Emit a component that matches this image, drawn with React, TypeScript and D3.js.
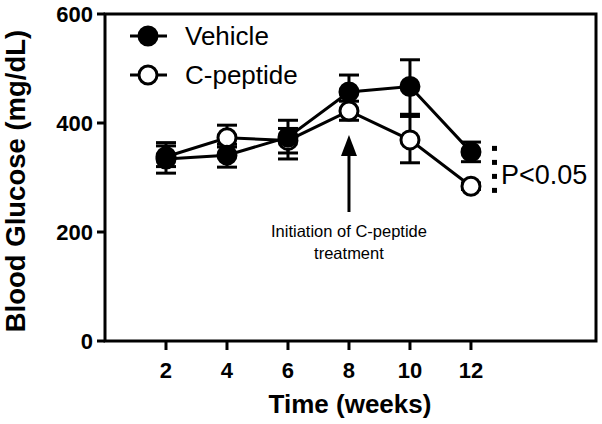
import React from "react";
import * as d3 from "d3";

const weeks = [2, 4, 6, 8, 10, 12];
const vehicleMean = [334, 341, 374, 457, 467, 347];
const vehicleLo = [308, 319, 345, 425, 416, 329];
const vehicleHi = [364, 361, 405, 488, 516, 365];
const cpepMean = [338, 373, 368, 422, 369, 284];
const cpepLo = [320, 356, 334, 405, 327, 278];
const cpepHi = [358, 396, 390, 440, 412, 290];
const xTicks = [2, 4, 6, 8, 10, 12];
const yTicks = [0, 200, 400, 600];

export default function App() {
  const W = 602, H = 424;
  const x = d3.scaleLinear().domain([0, 16.1]).range([105, 596]);
  const y = d3.scaleLinear().domain([0, 600]).range([341, 14]);
  const line = d3.line<number>().x((_, i) => x(weeks[i])).y((d) => y(d));
  const font = "Liberation Sans, Arial, sans-serif";
  const sw = 3;
  const r = 9;
  const cap = 10;

  const errBars = (lo: number[], hi: number[]) =>
    weeks.map((w, i) => (
      <g key={i} stroke="#000" strokeWidth={sw}>
        <line x1={x(w)} x2={x(w)} y1={y(lo[i])} y2={y(hi[i])} />
        <line x1={x(w) - cap} x2={x(w) + cap} y1={y(lo[i])} y2={y(lo[i])} />
        <line x1={x(w) - cap} x2={x(w) + cap} y1={y(hi[i])} y2={y(hi[i])} />
      </g>
    ));

  const pTop = y(vehicleMean[5]) - 6;
  const pBot = y(cpepMean[5]) + 4;
  const dots: number[] = [];
  for (let v = pTop; v <= pBot; v += 14) dots.push(v);

  return (
    <svg width={W} height={H} style={{ position: "absolute", left: 0, top: 0 }} fontFamily={font}>
      <rect width={W} height={H} fill="#fff" />
      {/* frame */}
      <rect x={105} y={14} width={491} height={327} fill="none" stroke="#000" strokeWidth={3} />
      {/* y ticks */}
      {yTicks.map((t) => (
        <g key={t}>
          <line x1={97} x2={105} y1={y(t)} y2={y(t)} stroke="#000" strokeWidth={3} />
          <text x={93} y={y(t)} dy="0.36em" textAnchor="end" fontWeight="bold" fontSize={22}>{t}</text>
        </g>
      ))}
      {xTicks.map((t) => (
        <g key={t}>
          <line x1={x(t)} x2={x(t)} y1={341} y2={350} stroke="#000" strokeWidth={3} />
          <text x={x(t)} y={378} textAnchor="middle" fontWeight="bold" fontSize={22}>{t}</text>
        </g>
      ))}
      <text x={350} y={413} textAnchor="middle" fontWeight="bold" fontSize={26}>Time (weeks)</text>
      <text transform={`translate(25,181) rotate(-90)`} textAnchor="middle" fontWeight="bold" fontSize={27.5}>Blood Glucose (mg/dL)</text>

      {/* lines */}
      <path d={line(cpepMean) || ""} fill="none" stroke="#000" strokeWidth={sw} />
      <path d={line(vehicleMean) || ""} fill="none" stroke="#000" strokeWidth={sw} />
      {errBars(cpepLo, cpepHi)}
      {errBars(vehicleLo, vehicleHi)}
      {weeks.map((w, i) => (
        <circle key={"c" + i} cx={x(w)} cy={y(cpepMean[i])} r={r} fill="#fff" stroke="#000" strokeWidth={sw} />
      ))}
      {weeks.map((w, i) => (
        <circle key={"v" + i} cx={x(w)} cy={y(vehicleMean[i])} r={r} fill="#000" stroke="#000" strokeWidth={sw} />
      ))}

      {/* legend */}
      <line x1={130} x2={167} y1={36} y2={36} stroke="#000" strokeWidth={sw} />
      <circle cx={148} cy={36} r={r} fill="#000" stroke="#000" strokeWidth={sw} />
      <text x={185} y={45} fontSize={26}>Vehicle</text>
      <line x1={130} x2={167} y1={75} y2={75} stroke="#000" strokeWidth={sw} />
      <circle cx={148} cy={75} r={r} fill="#fff" stroke="#000" strokeWidth={sw} />
      <text x={185} y={84} fontSize={26}>C-peptide</text>

      {/* arrow */}
      <line x1={x(8)} x2={x(8)} y1={212} y2={150} stroke="#000" strokeWidth={3} />
      <path d={`M${x(8)},135 L${x(8) - 8},156 L${x(8) + 8},156 Z`} fill="#000" />
      <text x={x(8)} y={237} textAnchor="middle" fontSize={16.5}>Initiation of C-peptide</text>
      <text x={x(8)} y={259} textAnchor="middle" fontSize={16.5}>treatment</text>

      {/* significance */}
      {dots.map((d, i) => (
        <rect key={i} x={492} y={d} width={5} height={5} fill="#000" />
      ))}
      <text x={501} y={184} fontSize={27}>P&lt;0.05</text>
    </svg>
  );
}
